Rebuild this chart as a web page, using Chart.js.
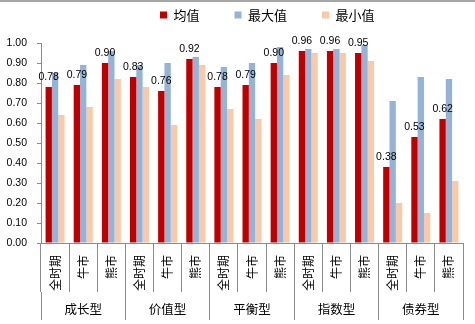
<!DOCTYPE html>
<html><head><meta charset="utf-8">
<script src="https://cdn.jsdelivr.net/npm/chart.js@4"></script>
<style>
html,body{margin:0;padding:0;background:#fff;}
#wrap{position:relative;width:475px;height:324px;}
#topline{position:absolute;left:0;top:0;width:475px;height:2px;background:#a6a6a6;}
</style></head><body>
<div id="wrap"><canvas id="c" width="475" height="324"></canvas><div id="topline"></div></div>
<script>
const categories = ['全时期','牛市','熊市','全时期','牛市','熊市','全时期','牛市','熊市','全时期','牛市','熊市','全时期','牛市','熊市'];
const groups = ['成长型','价值型','平衡型','指数型','债券型'];
const seriesNames = ['均值','最大值','最小值'];
const meanValues = [0.78,0.79,0.90,0.83,0.76,0.92,0.78,0.79,0.90,0.96,0.96,0.95,0.38,0.53,0.62];
const maxValues  = [0.85,0.89,0.96,0.89,0.90,0.93,0.88,0.90,0.98,0.97,0.97,0.99,0.71,0.83,0.82];
const minValues  = [0.64,0.68,0.82,0.78,0.59,0.89,0.67,0.62,0.84,0.95,0.95,0.91,0.20,0.15,0.31];
const colors = ['#C00000','#95B3D7','#F9C9A9'];

const numFont = '"Liberation Sans", Arial, sans-serif';
const cjkFont = '"Noto Sans CJK SC", sans-serif';

const legendShift = {
  id:'legendShift',
  afterLayout(chart){
    const lg = chart.legend;
    const pad = lg.options.labels.padding;
    const w = lg.right - lg.left;
    lg.left = 160 - pad; lg.right = lg.left + w;
    lg.top = 8.5 - pad; lg.bottom = 42;
  }
};
const barLabels = {
  id:'barLabels',
  afterDatasetsDraw(chart){
    const meta = chart.getDatasetMeta(0);
    const ctx = chart.ctx;
    ctx.save();
    ctx.font = '10.5px ' + numFont;
    ctx.fillStyle = '#000';
    ctx.textAlign = 'center'; ctx.textBaseline = 'alphabetic';
    meta.data.forEach((el,i)=>{ ctx.fillText(meanValues[i].toFixed(2), el.x, el.y - 7.5); });
    ctx.restore();
  }
};

new Chart(document.getElementById('c'), {
  type:'bar',
  data:{
    labels: categories,
    datasets:[
      {label:seriesNames[0], data:meanValues, backgroundColor:colors[0], borderWidth:0},
      {label:seriesNames[1], data:maxValues, backgroundColor:colors[1], borderWidth:0},
      {label:seriesNames[2], data:minValues, backgroundColor:colors[2], borderWidth:0}
    ]
  },
  options:{
    responsive:false, animation:false, devicePixelRatio:1,
    categoryPercentage:0.675, barPercentage:1.0,
    layout:{padding:{left:0,right:12,top:0,bottom:0}},
    plugins:{
      legend:{position:'top', align:'start', maxHeight:43,
        labels:{boxWidth:7, boxHeight:7, padding:35, color:'#000', font:{family:cjkFont, size:13}}},
      tooltip:{enabled:false}
    },
    scales:{
      x:{
        type:'category', position:'bottom', offset:true, weight:0,
        grid:{display:true, drawOnChartArea:false, drawTicks:true, tickLength:49, offset:true, color:'#8c8c8c', lineWidth:1},
        border:{display:true, color:'#8c8c8c'},
        ticks:{minRotation:90, maxRotation:90, autoSkip:false, padding:-37, color:'#000', font:{family:cjkFont, size:12}},
        afterFit(s){ s.height = 49; }
      },
      x2:{
        type:'category', labels:groups, position:'bottom', offset:true, weight:1,
        grid:{display:true, drawOnChartArea:false, drawTicks:true, tickLength:28, offset:true, color:'#8c8c8c', lineWidth:1},
        border:{display:false},
        ticks:{padding:-18, autoSkip:false, maxRotation:0, minRotation:0, color:'#000', font:{family:cjkFont, size:12.5}},
        afterFit(s){ s.height = 32; }
      },
      y:{
        min:0, max:1,
        ticks:{stepSize:0.1, padding:10, color:'#000', font:{family:numFont, size:10.5}, callback:v=>Number(v).toFixed(2)},
        grid:{display:true, drawOnChartArea:false, drawTicks:true, tickLength:4, color:'#8c8c8c'},
        border:{display:true, color:'#8c8c8c'},
        afterFit(s){ s.width = 41; }
      }
    }
  },
  plugins:[legendShift, barLabels]
});
</script>
</body></html>
